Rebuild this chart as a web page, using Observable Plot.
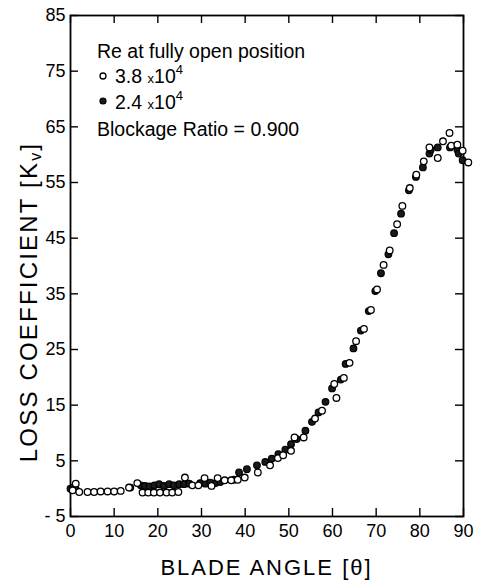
<!DOCTYPE html>
<html>
<head>
<meta charset="utf-8">
<script src="https://cdn.jsdelivr.net/npm/d3@7"></script>
<script src="https://cdn.jsdelivr.net/npm/@observablehq/plot@0.6"></script>
<style>
  html, body { margin: 0; padding: 0; background: #fff; }
  #chart svg { display: block; }
</style>
</head>
<body>
<div id="chart"></div>
<script>
// Blade angle (theta) ticks and loss coefficient ticks
const xTicks = [0, 10, 20, 30, 40, 50, 60, 70, 80, 90];
const yTicks = [-5, 5, 15, 25, 35, 45, 55, 65, 75, 85];

// Re = 3.8 x 10^4 (open circles)
const openTheta = [0.5, 1.2, 2.0, 3.9, 5.4, 6.9, 8.5, 10.0, 11.5, 13.4,
  15.3, 16.5, 17.8, 19.1, 20.5, 22.0, 23.3, 24.7, 26.2, 27.9,
  29.3, 30.7, 32.3, 33.7, 35.3, 36.8, 38.3, 39.9, 42.9, 45.7,
  47.5, 48.7, 50.5, 51.3, 53.4, 56.0, 57.6, 60.4, 60.9, 62.6,
  63.9, 65.4, 67.2, 68.8, 70.2, 71.7, 73.1, 74.8, 76.0, 77.7,
  79.2, 80.9, 82.2, 84.1, 85.3, 86.8, 87.2, 88.6, 89.8, 91.1];
const openK = [-0.3, 0.9, -0.6, -0.6, -0.6, -0.5, -0.5, -0.5, -0.4, 0.2,
  1.0, -0.7, -0.7, -0.7, -0.7, -0.7, -0.7, -0.6, 2.0, 0.6,
  0.6, 1.9, 0.5, 1.9, 1.5, 1.5, 1.6, 2.0, 2.9, 4.2,
  5.5, 6.0, 6.8, 9.2, 9.2, 12.6, 14.0, 18.8, 16.3, 19.9,
  22.6, 26.5, 28.7, 32.1, 35.8, 40.2, 42.8, 47.5, 50.8, 54.0,
  56.4, 58.8, 61.3, 59.4, 62.4, 63.9, 61.6, 61.8, 60.7, 58.6];

// Re = 2.4 x 10^4 (filled circles)
const filledTheta = [0.0, 0.6, 1.2, 13.7, 16.1, 17.1, 18.1, 19.2, 20.3, 21.4,
  22.6, 23.7, 24.9, 26.0, 27.2, 29.7, 30.9, 32.0, 33.2, 34.3,
  37.4, 38.6, 40.4, 42.7, 44.6, 46.1, 47.6, 49.2, 50.5, 51.8,
  53.8, 55.3, 56.8, 58.4, 59.9, 61.9, 63.0, 64.8, 66.5, 68.3,
  69.8, 71.1, 72.8, 74.1, 75.7, 77.5, 79.1, 80.7, 82.2, 82.5,
  84.1, 86.9, 88.6, 88.9, 89.8];
const filledK = [0.0, 0.2, -0.1, 0.2, 0.6, 0.5, 0.4, 0.6, 0.8, 0.5,
  0.8, 0.6, 0.8, 0.8, 0.9, 1.0, 0.9, 1.1, 1.0, 1.2,
  1.6, 2.9, 3.5, 4.2, 4.8, 5.4, 6.2, 7.0, 8.0, 8.9,
  10.4, 12.0, 13.7, 15.6, 18.0, 19.6, 22.4, 25.2, 28.4, 31.9,
  35.5, 38.7, 42.1, 45.9, 49.4, 53.6, 56.0, 57.7, 60.2, 60.9,
  61.3, 61.3, 60.9, 60.2, 59.0];

const openData = openTheta.map((t, i) => ({theta: t, k: openK[i]}));
const filledData = filledTheta.map((t, i) => ({theta: t, k: filledK[i]}));

const font = "'Liberation Sans', Arial, Helvetica, sans-serif";
const mL = 70, mR = 14, mT = 15, mB = 66, W = 477, H = 582;
const plotW = W - mL - mR, plotH = H - mT - mB, tk = 8;

const svg = Plot.plot({
  width: W, height: H,
  marginLeft: mL, marginRight: mR, marginTop: mT, marginBottom: mB,
  style: {fontFamily: font, background: "#fff", color: "#000", overflow: "visible"},
  x: {domain: [0, 90]},
  y: {domain: [-5, 85]},
  marks: [
    // tick labels
    Plot.axisX(xTicks, {anchor: "bottom", tickSize: 0, tickPadding: 8, fontSize: 18, label: null, tickFormat: d => String(d)}),
    Plot.axisY(yTicks, {anchor: "left", tickSize: 0, tickPadding: 5, fontSize: 18, label: null, tickFormat: d => d < 0 ? "- " + Math.abs(d) : String(d)}),
    // inward ticks on all four sides
    Plot.tickX(xTicks, {x: d => d, insetTop: plotH - tk, stroke: "#000", strokeWidth: 1.4}),
    Plot.tickX(xTicks, {x: d => d, insetBottom: plotH - tk, stroke: "#000", strokeWidth: 1.4}),
    Plot.tickY(yTicks, {y: d => d, insetRight: plotW - tk, stroke: "#000", strokeWidth: 1.4}),
    Plot.tickY(yTicks, {y: d => d, insetLeft: plotW - tk, stroke: "#000", strokeWidth: 1.4}),
    Plot.frame({stroke: "#000", strokeWidth: 1.8}),
    Plot.dot(filledData, {x: "theta", y: "k", r: 3.3, fill: "#1a1a1a", stroke: "#000", strokeWidth: 1.2}),
    Plot.dot(openData, {x: "theta", y: "k", r: 3.3, fill: "#fff", stroke: "#000", strokeWidth: 1.3})
  ]
});

const s = d3.select(svg);
const g = s.append("g").attr("font-family", font).attr("fill", "#000").attr("text-anchor", "start");

// Legend block (inside plot, top-left)
const lx = mL + 27;
g.append("text").attr("x", lx).attr("y", 58).attr("font-size", 19.5).text("Re at fully open position");

g.append("circle").attr("cx", lx + 6).attr("cy", 76).attr("r", 3).attr("fill", "#fff").attr("stroke", "#000").attr("stroke-width", 1.3);
const t1 = g.append("text").attr("x", lx + 18).attr("y", 83).attr("font-size", 19.5);
t1.append("tspan").text("3.8 ");
t1.append("tspan").attr("font-size", 13).text("x");
t1.append("tspan").text("10");
t1.append("tspan").attr("font-size", 13).attr("dy", -9).text("4");

g.append("circle").attr("cx", lx + 6).attr("cy", 101).attr("r", 3).attr("fill", "#1a1a1a").attr("stroke", "#000").attr("stroke-width", 1.2);
const t2 = g.append("text").attr("x", lx + 18).attr("y", 109).attr("font-size", 19.5);
t2.append("tspan").text("2.4 ");
t2.append("tspan").attr("font-size", 13).text("x");
t2.append("tspan").text("10");
t2.append("tspan").attr("font-size", 13).attr("dy", -9).text("4");

g.append("text").attr("x", lx).attr("y", 136).attr("font-size", 19.5).text("Blockage Ratio = 0.900");

// Axis titles
g.append("text")
  .attr("x", (mL + (W - mR)) / 2).attr("y", 575)
  .attr("text-anchor", "middle").attr("font-size", 22).attr("letter-spacing", 2)
  .text("BLADE ANGLE [θ]");

const yl = g.append("text")
  .attr("transform", "translate(37,302) rotate(-90)")
  .attr("text-anchor", "middle").attr("font-size", 24).attr("letter-spacing", 2.2);
yl.append("tspan").text("LOSS COEFFICIENT [K");
yl.append("tspan").attr("font-size", 16).attr("dy", 4).text("v");
yl.append("tspan").attr("dy", -4).text("]");

document.getElementById("chart").appendChild(svg);
</script>
</body>
</html>
